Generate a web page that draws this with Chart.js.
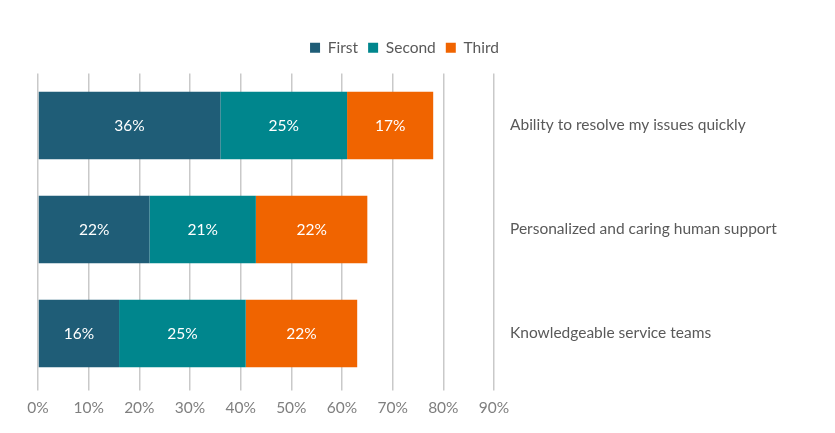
<!DOCTYPE html>
<html>
<head>
<meta charset="utf-8">
<script src="https://cdn.jsdelivr.net/npm/chart.js@4"></script>
<style>
  html, body { margin: 0; padding: 0; background: #ffffff; }
  #wrap { width: 835px; height: 433px; }
</style>
</head>
<body>
<div id="wrap"><canvas id="chart" width="835" height="433"></canvas></div>
<script>
// Data (percent of respondents ranking each attribute)
const categories = ['Ability to resolve my issues quickly',
                    'Personalized and caring human support',
                    'Knowledgeable service teams'];
const seriesNames = ['First', 'Second', 'Third'];
const firstVals  = [36, 22, 16];
const secondVals = [25, 21, 25];
const thirdVals  = [17, 22, 22];
const xTicks = [0, 10, 20, 30, 40, 50, 60, 70, 80, 90];

const COLORS = ['#1f5d77', '#00868d', '#f06400'];
const FONT = 'Lato, "Open Sans", sans-serif';

// white percent labels in the middle of each segment
const barLabels = {
  id: 'barLabels',
  afterDatasetsDraw(chart) {
    const ctx = chart.ctx;
    ctx.save();
    ctx.fillStyle = '#ffffff';
    ctx.font = '15.5px ' + FONT;
    ctx.textAlign = 'center';
    ctx.textBaseline = 'middle';
    chart.data.datasets.forEach((ds, i) => {
      chart.getDatasetMeta(i).data.forEach((bar, j) => {
        const cx = (bar.x + bar.base) / 2;
        ctx.fillText(ds.data[j] + '%', cx, bar.y + 1);
      });
    });
    ctx.restore();
  }
};

// extra gap under the legend, and nudge it left so it sits where the original does
const legendTweak = {
  id: 'legendTweak',
  beforeInit(chart) {
    const fit = chart.legend.fit;
    chart.legend.fit = function () {
      fit.bind(chart.legend)();
      this.height += 8;
    };
  },
  beforeDraw(chart) {
    chart.legend.left -= 32;
    chart.legend.right -= 32;
  },
  afterDraw(chart) {
    chart.legend.left += 32;
    chart.legend.right += 32;
  }
};

new Chart(document.getElementById('chart'), {
  type: 'bar',
  data: {
    labels: categories,
    datasets: [
      { label: seriesNames[0], data: firstVals,  backgroundColor: COLORS[0] },
      { label: seriesNames[1], data: secondVals, backgroundColor: COLORS[1] },
      { label: seriesNames[2], data: thirdVals,  backgroundColor: COLORS[2] },
    ],
  },
  options: {
    indexAxis: 'y',
    responsive: false,
    animation: false,
    layout: { padding: { left: 38, right: 0, top: 30, bottom: 8 } },
    datasets: { bar: { barPercentage: 0.65, categoryPercentage: 1.0 } },
    plugins: {
      legend: {
        position: 'top',
        labels: {
          boxWidth: 10, boxHeight: 10, padding: 10,
          color: '#595959',
          font: { family: FONT, size: 15.5 },
        },
      },
      tooltip: { enabled: false },
    },
    scales: {
      x: {
        stacked: true,
        min: 0, max: 90,
        afterBuildTicks: (scale) => { scale.ticks = xTicks.map(v => ({ value: v })); },
        ticks: {
          callback: (v) => v + '%',
          color: '#7f7f7f',
          font: { family: FONT, size: 15.5 },
          padding: 8,
          maxRotation: 0,
        },
        grid: { color: '#c9c9c9', lineWidth: 1.5, tickLength: 5 },
        border: { display: false },
      },
      y: {
        stacked: true,
        position: 'right',
        afterFit: (scale) => { scale.width = 341; },
        ticks: {
          color: '#595959',
          font: { family: FONT, size: 15.5 },
          padding: 8,
        },
        grid: { display: false },
        border: { display: false },
      },
    },
  },
  plugins: [barLabels, legendTweak],
});
</script>
</body>
</html>
